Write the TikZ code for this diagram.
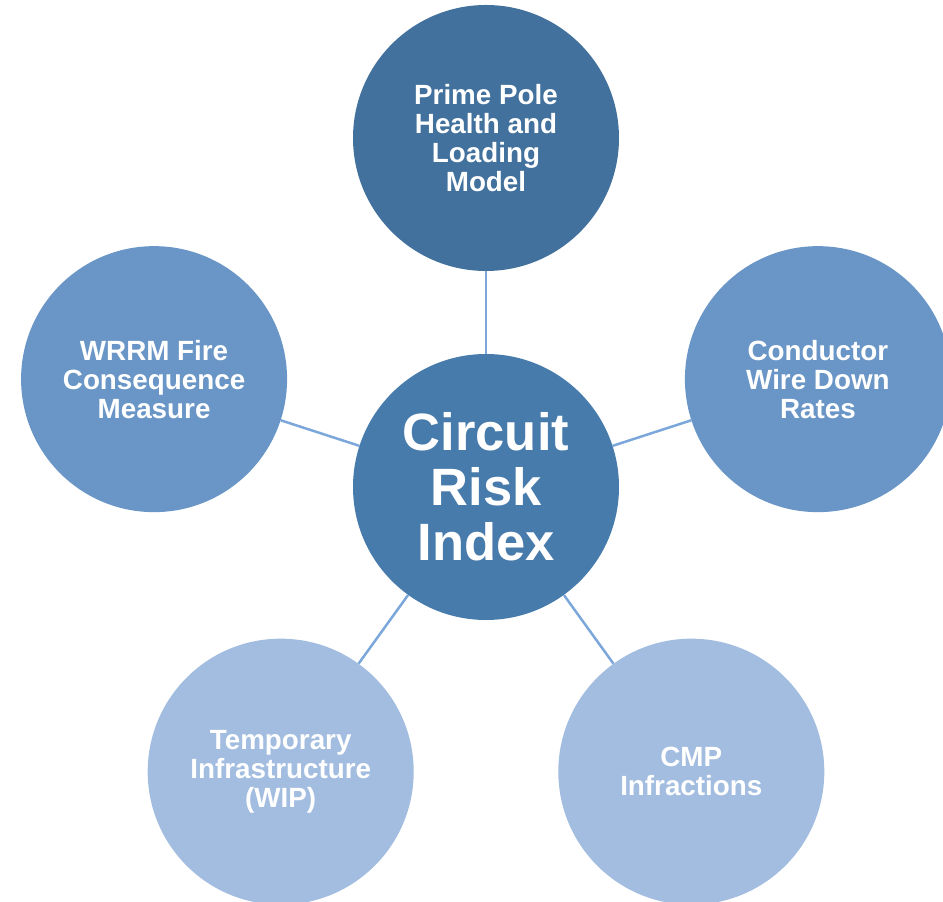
\documentclass[tikz,border=0pt]{standalone}
\usepackage{fontspec}
\setmainfont{Liberation Sans}
\usetikzlibrary{positioning,calc}
\definecolor{poleblue}{HTML}{41719C}
\definecolor{coreblue}{HTML}{477BAB}
\definecolor{sideblue}{HTML}{6996C6}
\definecolor{lowblue}{HTML}{A2BDDF}
\definecolor{linkblue}{HTML}{7BA7DA}

\begin{document}
\begin{tikzpicture}
  [
      x=1pt, y=1pt,
      bubble/.style={circle, fill=#1, minimum size=266pt, inner sep=0pt, text=white, align=center, font=\fontsize{27.8}{29}\selectfont\bfseries},
      link/.style={draw=linkblue, line width=2.5pt}
    ]
    \useasboundingbox (0,0) rectangle (943,902);
    \node (cri) at (486,415) [bubble=coreblue, font=\fontsize{52.5}{55}\selectfont\bfseries] {Circuit\\Risk\\Index};
    \node (pole) at ($(cri)+(90:349)$) [bubble=poleblue] {Prime Pole\\Health and\\Loading\\Model};
    \node (wire) at ($(cri)+(18:349)$) [bubble=sideblue] {Conductor\\Wire Down\\Rates};
    \node (cmp) at ($(cri)+(-54.2:351)$) [bubble=lowblue] {CMP\\Infractions};
    \node (wip) at ($(cri)+(-125.8:351)$) [bubble=lowblue] {Temporary\\Infrastructure\\(WIP)};
    \node (wrrm) at ($(cri)+(162:349)$) [bubble=sideblue] {WRRM Fire\\Consequence\\Measure};
    \foreach \i in {pole,wire,cmp,wip,wrrm}
      \draw [link] (cri) -- (\i);
  \end{tikzpicture}
\end{document}
